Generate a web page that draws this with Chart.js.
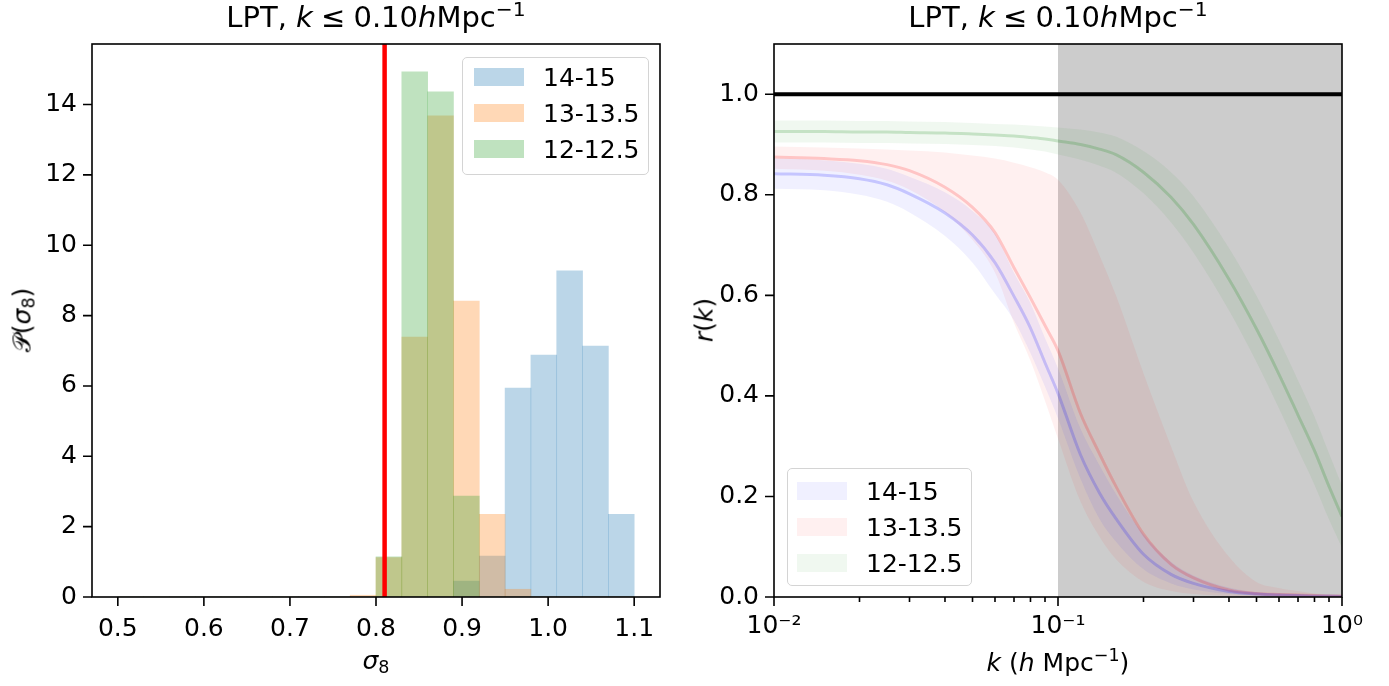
<!DOCTYPE html>
<html>
<head>
<meta charset="utf-8">
<script src="https://cdn.jsdelivr.net/npm/chart.js@4.4.0/dist/chart.umd.min.js"></script>
<style>
  body { margin: 0; background: #fff; font-family: 'DejaVu Sans', sans-serif; }
  #figure { position: relative; width: 1389px; height: 686px; overflow: hidden; background: #fff; }
  #figure canvas { position: absolute; top: 0; }
  .txt { position: absolute; color: #000; white-space: nowrap; line-height: 1; font-size: 25px; }
  .title { font-size: 29px; transform: translateX(-50%); }
  .title .rel { padding: 0 0.28em; }
  .xlabel { transform: translateX(-50%); }
  .ylabel { transform: translate(-50%, -50%) rotate(-90deg); }
  sup { font-size: 0.7em; vertical-align: 0.55em; line-height: 0; }
  sub { font-size: 0.7em; vertical-align: -0.25em; line-height: 0; }
  .legend { position: absolute; box-sizing: border-box; border: 1.5px solid #d4d4d4; border-radius: 5px;
            background: rgba(255,255,255,0.8); }
  .legend .row { height: 36px; display: flex; align-items: center; font-size: 25px; }
  .legend .patch { width: 50px; height: 18px; margin-right: 19px; flex: none; }
</style>
</head>
<body>
<div id="figure">
  <canvas id="histChart" width="694" height="686" style="left:0"></canvas>
  <canvas id="corrChart" width="695" height="686" style="left:694px"></canvas>

  <div class="txt title" style="left:376px;top:3px">LPT, <i>k</i><span class="rel">≤</span>0.10<i>h</i>Mpc<sup>−1</sup></div>
  <div class="txt title" style="left:1058px;top:3px">LPT, <i>k</i><span class="rel">≤</span>0.10<i>h</i>Mpc<sup>−1</sup></div>

  <div class="txt xlabel" style="left:376px;top:648px"><i>σ</i><sub>8</sub></div>
  <div class="txt ylabel" style="left:22px;top:320px">𝒫(<i>σ</i><sub>8</sub>)</div>
  <div class="txt xlabel" style="left:1058px;top:650px"><i>k</i> (<i>h</i> Mpc<sup>−1</sup>)</div>
  <div class="txt ylabel" style="left:704px;top:320px"><i>r</i>(<i>k</i>)</div>

  <div class="legend" id="histLegend" style="left:462px;top:57px;width:187px;height:118px;padding:1px 0 0 11px"></div>
  <div class="legend" id="corrLegend" style="left:787px;top:468px;width:185px;height:118px;padding:4px 0 0 9px"></div>
</div>

<script>
// ---- sigma_8 posterior histograms ----
const massBins = ['14-15', '13-13.5', '12-12.5'];
const binEdges = [0.50, 0.53, 0.56, 0.59, 0.62, 0.65, 0.68, 0.71, 0.74, 0.77, 0.80,
                  0.83, 0.86, 0.89, 0.92, 0.95, 0.98, 1.01, 1.04, 1.07, 1.10];
const pdfHigh = [0, 0, 0, 0, 0, 0, 0, 0, 0, 0, 0, 0, 0, 0.45, 1.16, 5.94, 6.88, 9.27, 7.13, 2.35];
const pdfMid  = [0, 0, 0, 0, 0, 0, 0, 0, 0, 0.05, 1.12, 7.39, 13.68, 8.41, 2.35, 0.22, 0, 0, 0, 0];
const pdfLow  = [0, 0, 0, 0, 0, 0, 0, 0, 0, 0, 1.14, 14.93, 14.36, 2.87, 0, 0, 0, 0, 0, 0];
const sigma8Fid = 0.81;
const sigmaTicks = [0.5, 0.6, 0.7, 0.8, 0.9, 1.0, 1.1];
const pdfTicks = [0, 2, 4, 6, 8, 10, 12, 14];

// ---- cross-correlation coefficient r(k) ----
const kGrid = [0.01, 0.015, 0.02, 0.025, 0.03, 0.04, 0.05, 0.06, 0.07, 0.08, 0.09, 0.1,
               0.12, 0.14, 0.16, 0.2, 0.25, 0.3, 0.4, 0.5, 0.6, 0.7, 0.8, 0.9, 1.0];
const rHigh    = [.842, .839, .832, .820, .802, .764, .720, .665, .598, .535, .466, .405,
                  .283, .207, .156, .085, .045, .027, .011, .006, .004, .003, .002, .002, .001];
const rHighLo  = [.812, .809, .800, .786, .765, .718, .665, .603, .550, .485, .418, .355,
                  .235, .155, .110, .055, .027, .015, .006, .003, .002, .001, .001, .001, .000];
const rHighHi  = [.872, .869, .862, .852, .836, .805, .768, .722, .645, .585, .515, .455,
                  .335, .262, .205, .125, .070, .043, .019, .010, .007, .005, .004, .003, .003];
const rMid     = [.875, .872, .868, .860, .848, .815, .775, .725, .655, .595, .540, .490,
                  .365, .285, .220, .125, .065, .038, .014, .007, .005, .004, .003, .002, .002];
const rMidLo   = [.852, .848, .840, .828, .810, .765, .710, .645, .545, .470, .390, .315,
                  .190, .120, .075, .030, .012, .006, .002, .001, .001, .000, .000, .000, .000];
const rMidHi   = [.896, .894, .892, .890, .888, .884, .878, .872, .864, .855, .845, .830,
                  .765, .680, .600, .445, .300, .190, .080, .030, .018, .012, .007, .005, .004];
const rLow     = [.926, .926, .925, .925, .924, .923, .921, .919, .917, .914, .911, .907,
                  .900, .891, .880, .845, .795, .741, .632, .533, .443, .362, .291, .220, .160];
const rLowLo   = [.904, .904, .903, .903, .902, .901, .899, .897, .894, .890, .886, .880,
                  .870, .858, .844, .803, .745, .685, .570, .467, .375, .293, .223, .154, .098];
const rLowHi   = [.948, .948, .947, .947, .946, .945, .943, .941, .940, .938, .936, .934,
                  .930, .924, .916, .887, .845, .797, .694, .599, .511, .431, .359, .286, .222];
const kCut = [0.1, 1.0];
const kRange = [0.01, 1.0];
const rTicks = [0, 0.2, 0.4, 0.6, 0.8, 1.0];
const kMajorTicks = [0.01, 0.1, 1];
const kMajorLabels = ['10⁻²', '10⁻¹', '10⁰'];

const histColors = ['rgba(31,119,180,0.3)', 'rgba(255,127,14,0.3)', 'rgba(44,160,44,0.3)'];
const bandColors = ['rgba(0,0,255,0.06)', 'rgba(255,0,0,0.06)', 'rgba(0,128,0,0.06)'];
const lineColors = ['rgba(0,0,255,0.18)', 'rgba(255,0,0,0.18)', 'rgba(0,128,0,0.18)'];

const tickFont = { family: 'DejaVu Sans', size: 25 };

// spines plus outward tick marks, matplotlib style
const axesFrame = {
    id: 'axesFrame',
    afterDraw(chart) {
        const { ctx, chartArea: a, scales } = chart;
        ctx.save();
        ctx.strokeStyle = '#000';
        ctx.lineWidth = 1.6;
        ctx.beginPath();
        scales.x.ticks.forEach(t => {
            const px = scales.x.getPixelForValue(t.value);
            ctx.moveTo(px, a.bottom);
            ctx.lineTo(px, a.bottom + (t.minor ? 5 : 9));
        });
        scales.y.ticks.forEach(t => {
            const py = scales.y.getPixelForValue(t.value);
            ctx.moveTo(a.left - 9, py);
            ctx.lineTo(a.left, py);
        });
        ctx.stroke();
        ctx.strokeRect(a.left, a.top, a.right - a.left, a.bottom - a.top);
        ctx.restore();
    }
};

// fiducial sigma_8
const fiducialLine = {
    id: 'fiducialLine',
    afterDatasetsDraw(chart) {
        const { ctx, chartArea: a, scales: { x } } = chart;
        const px = x.getPixelForValue(sigma8Fid);
        ctx.save();
        ctx.strokeStyle = '#ff0000';
        ctx.lineWidth = 4.5;
        ctx.beginPath();
        ctx.moveTo(px, a.top);
        ctx.lineTo(px, a.bottom);
        ctx.stroke();
        ctx.restore();
    }
};

// k range excluded from the fit
const kCutShade = {
    id: 'kCutShade',
    beforeDatasetsDraw(chart) {
        const { ctx, chartArea: a, scales: { x } } = chart;
        const x0 = x.getPixelForValue(kCut[0]);
        const x1 = x.getPixelForValue(kCut[1]);
        ctx.save();
        ctx.fillStyle = 'rgba(128,128,128,0.4)';
        ctx.fillRect(x0, a.top, x1 - x0, a.bottom - a.top);
        ctx.restore();
    }
};

function buildLegend(id, colors) {
    const box = document.getElementById(id);
    massBins.forEach((label, i) => {
        const row = document.createElement('div');
        row.className = 'row';
        row.innerHTML = `<span class="patch" style="background:${colors[i]}"></span><span>${label}</span>`;
        box.appendChild(row);
    });
}

// Histogram panel
const binCentres = binEdges.slice(0, -1).map((e, i) => (e + binEdges[i + 1]) / 2);
const histSets = [pdfHigh, pdfMid, pdfLow].map((vals, i) => ({
    label: massBins[i],
    data: vals.map((v, j) => ({ x: binCentres[j], y: v })),
    backgroundColor: histColors[i],
    borderWidth: 0,
    barPercentage: 1,
    categoryPercentage: 1,
    grouped: false,
    order: 2 - i
}));

new Chart(document.getElementById('histChart'), {
    type: 'bar',
    data: { datasets: histSets },
    options: {
        responsive: false,
        animation: false,
        devicePixelRatio: 1,
        layout: { padding: { top: 44, right: 34, left: 0, bottom: 0 } },
        plugins: { legend: { display: false }, tooltip: { enabled: false } },
        scales: {
            x: {
                type: 'linear',
                offset: false,
                min: 0.47,
                max: 1.13,
                grid: { display: false, drawTicks: false },
                border: { display: false },
                afterBuildTicks: s => { s.ticks = sigmaTicks.map(v => ({ value: v })); },
                afterFit: s => { s.height = 89; },
                ticks: {
                    font: tickFont, color: '#000', padding: 17, autoSkip: false, maxRotation: 0,
                    callback: v => v.toFixed(1)
                }
            },
            y: {
                min: 0,
                max: 15.72,
                grid: { display: false, drawTicks: false },
                border: { display: false },
                afterBuildTicks: s => { s.ticks = pdfTicks.map(v => ({ value: v })); },
                afterFit: s => { s.width = 92; },
                ticks: { font: tickFont, color: '#000', padding: 15, callback: v => String(v) }
            }
        }
    },
    plugins: [fiducialLine, axesFrame]
});

// Correlation panel
const xy = (ys) => ys.map((v, j) => ({ x: kGrid[j], y: v }));
const corrSets = [];
[[rHighLo, rHigh, rHighHi], [rMidLo, rMid, rMidHi], [rLowLo, rLow, rLowHi]].forEach(([lo, mid, hi], i) => {
    const common = { pointRadius: 0, cubicInterpolationMode: 'monotone' };
    corrSets.push({ ...common, label: massBins[i] + ' lo', data: xy(lo), borderColor: 'transparent', borderWidth: 0, fill: false });
    corrSets.push({ ...common, label: massBins[i], data: xy(hi), borderColor: 'transparent', borderWidth: 0,
                    fill: '-1', backgroundColor: bandColors[i] });
    corrSets.push({ ...common, label: massBins[i] + ' mean', data: xy(mid), borderColor: lineColors[i], borderWidth: 3, fill: false });
});
corrSets.push({
    label: 'r = 1',
    data: kRange.map(k => ({ x: k, y: 1 })),
    borderColor: '#000',
    borderWidth: 4,
    pointRadius: 0,
    fill: false
});

const kMinor = [];
[0.01, 0.1].forEach(d => { for (let m = 2; m <= 9; m++) kMinor.push(d * m); });

new Chart(document.getElementById('corrChart'), {
    type: 'line',
    data: { datasets: corrSets },
    options: {
        responsive: false,
        animation: false,
        devicePixelRatio: 1,
        layout: { padding: { top: 44, right: 47, left: 0, bottom: 0 } },
        plugins: { legend: { display: false }, tooltip: { enabled: false } },
        scales: {
            x: {
                type: 'logarithmic',
                min: kRange[0],
                max: kRange[1],
                grid: { display: false, drawTicks: false },
                border: { display: false },
                afterBuildTicks: s => {
                    s.ticks = kMajorTicks.map(v => ({ value: v }))
                        .concat(kMinor.map(v => ({ value: v, minor: true })));
                },
                afterFit: s => { s.height = 89; },
                ticks: {
                    font: tickFont, color: '#000', padding: 14, autoSkip: false, maxRotation: 0,
                    callback: function (v) {
                        const i = kMajorTicks.findIndex(m => Math.abs(m - v) < 1e-9);
                        return i >= 0 ? kMajorLabels[i] : '';
                    }
                }
            },
            y: {
                min: 0,
                max: 1.1,
                grid: { display: false, drawTicks: false },
                border: { display: false },
                afterBuildTicks: s => { s.ticks = rTicks.map(v => ({ value: v })); },
                afterFit: s => { s.width = 80; },
                ticks: { font: tickFont, color: '#000', padding: 15, callback: v => v.toFixed(1) }
            }
        }
    },
    plugins: [kCutShade, axesFrame]
});

buildLegend('histLegend', histColors);
buildLegend('corrLegend', bandColors);
</script>
</body>
</html>
